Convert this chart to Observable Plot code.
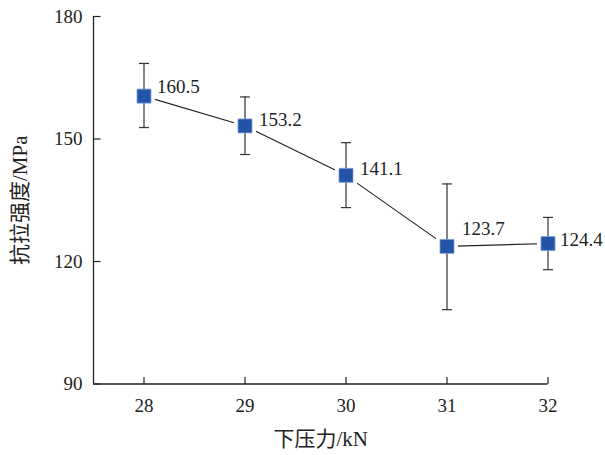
<!DOCTYPE html>
<html>
<head>
<meta charset="utf-8">
<script src="https://cdn.jsdelivr.net/npm/d3@7"></script>
<script src="https://cdn.jsdelivr.net/npm/@observablehq/plot@0.6"></script>
<style>
  html, body { margin: 0; padding: 0; background: #fff; }
  svg text { font-family: 'Liberation Serif', 'Times New Roman', 'Noto Sans CJK SC', serif; }
</style>
</head>
<body>
<div id="chart"></div>
<script>
// ---- data ----
const forces = [28, 29, 30, 31, 32];                 // 下压力 / kN
const strength = [160.5, 153.2, 141.1, 123.7, 124.4]; // 抗拉强度 / MPa
const errLow = [152.8, 146.2, 133.2, 108.2, 118.0];
const errHigh = [168.5, 160.3, 149.1, 139.0, 130.8];
const valueLabels = ["160.5", "153.2", "141.1", "123.7", "124.4"];
const xTicks = [28, 29, 30, 31, 32];
const yTicks = [90, 120, 150, 180];
const xTitle = "下压力/kN";
const yTitle = "抗拉强度/MPa";

const data = forces.map((x, i) => ({
  x, y: strength[i], lo: errLow[i], hi: errHigh[i], label: valueLabels[i], i
}));

// ---- styles ----
const ink = "#222";
const blue = "#2354a8";
const serif = "'Liberation Serif', 'Times New Roman', 'Noto Sans CJK SC', serif";
const labelOffsets = [[13, -9], [14, -6], [14, -6], [15, -17], [12, -4]];

const capSymbol = {draw(ctx) { ctx.moveTo(-5, 0); ctx.lineTo(5, 0); }};
const tickUp = {draw(ctx) { ctx.moveTo(0, 0); ctx.lineTo(0, -7); }};
const tickRight = {draw(ctx) { ctx.moveTo(0, 0); ctx.lineTo(7, 0); }};

const xMin = 27.5, xMax = 32, yMin = 90, yMax = 180;

const chart = Plot.plot({
  width: 605,
  height: 455,
  marginLeft: 93,
  marginRight: 57.5,
  marginTop: 16,
  marginBottom: 71.5,
  style: `font-family: ${serif}; font-size: 19px; color: ${ink}; background: #fff;`,
  x: {domain: [xMin, xMax]},
  y: {domain: [yMin, yMax]},
  marks: [
    // axis lines
    Plot.ruleX([xMin], {y1: yMin, y2: yMax, stroke: ink, strokeWidth: 1.3}),
    Plot.ruleY([yMin], {x1: xMin, x2: xMax, stroke: ink, strokeWidth: 1.3}),
    // inward ticks
    Plot.dot(xTicks, {x: d => d, y: yMin, symbol: tickUp, fill: "none", stroke: ink, strokeWidth: 1.2}),
    Plot.dot(yTicks, {x: xMin, y: d => d, symbol: tickRight, fill: "none", stroke: ink, strokeWidth: 1.2}),
    // tick labels
    Plot.axisX({ticks: xTicks, tickFormat: d3.format("d"), tickSize: 0, tickPadding: 14, label: null, fill: ink, fontSize: 19, fontFamily: serif}),
    Plot.axisY({ticks: yTicks, tickFormat: d3.format("d"), tickSize: 0, tickPadding: 11, label: null, fill: ink, fontSize: 19, fontFamily: serif}),
    // axis titles
    Plot.text([xTitle], {frameAnchor: "bottom", textAnchor: "middle", lineAnchor: "middle", dy: 55, fontSize: 21, fill: ink, fontFamily: serif}),
    Plot.text([yTitle], {frameAnchor: "left", textAnchor: "middle", lineAnchor: "middle", rotate: -90, dx: -73, fontSize: 21, fill: ink, fontFamily: serif}),
    // connecting line
    Plot.line(data, {x: "x", y: "y", stroke: ink, strokeWidth: 1.1}),
    // white halo to create gap in line around squares
    Plot.dot(data, {x: "x", y: "y", symbol: "square", r: 7.9, fill: "white", stroke: "white", strokeWidth: 8}),
    // error bars
    Plot.ruleX(data, {x: "x", y1: "lo", y2: "hi", stroke: "#333", strokeWidth: 1.2}),
    Plot.dot(data, {x: "x", y: "lo", symbol: capSymbol, fill: "none", stroke: "#333", strokeWidth: 1.2}),
    Plot.dot(data, {x: "x", y: "hi", symbol: capSymbol, fill: "none", stroke: "#333", strokeWidth: 1.2}),
    // squares
    Plot.dot(data, {x: "x", y: "y", symbol: "square", r: 7.9, fill: blue, stroke: "#7f9fd6", strokeWidth: 0.8}),
    // value labels
    ...labelOffsets.map(([dx, dy], i) =>
      Plot.text(data.filter(d => d.i === i), {x: "x", y: "y", text: "label", textAnchor: "start", dx, dy, fill: ink, fontSize: 19, fontFamily: serif})
    )
  ]
});

document.getElementById("chart").appendChild(chart);
</script>
</body>
</html>
